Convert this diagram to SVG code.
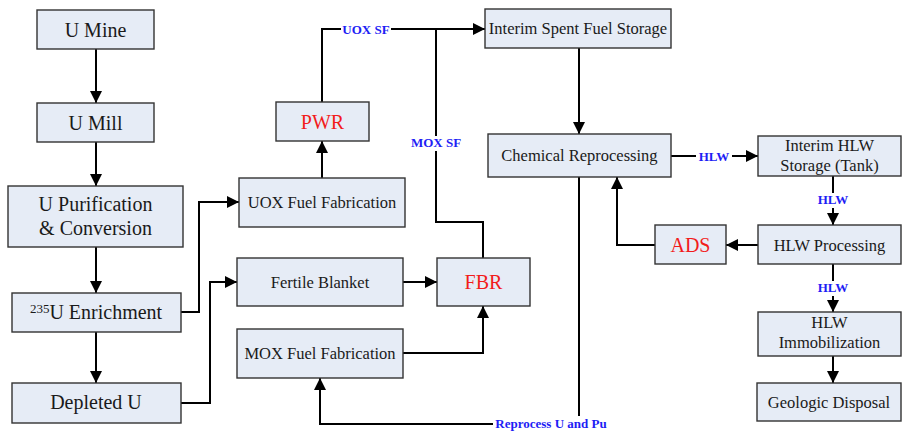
<svg xmlns="http://www.w3.org/2000/svg" width="903" height="431" viewBox="0 0 903 431">
<style>
.box{fill:#E6ECF6;stroke:#333;stroke-width:1.4}
.t{font-family:"Liberation Serif","Times New Roman",serif;fill:#1a1a1a;text-anchor:middle}
.big{font-size:20px}
.med{font-size:16.5px}
.red{fill:#F21C1C;font-size:20px}
.lbl{font-family:"Liberation Serif","Times New Roman",serif;font-weight:bold;font-size:13px;fill:#1E1EF5;text-anchor:middle}
.bg{fill:#fff}
.c{fill:none;stroke:#000;stroke-width:2}
.a{marker-end:url(#ah)}
</style>
<defs>
<marker id="ah" markerUnits="userSpaceOnUse" viewBox="0 0 12 12" refX="12" refY="6" markerWidth="12" markerHeight="12" orient="auto">
<path d="M0,0 L12,6 L0,12 z" fill="#000"/>
</marker>
</defs>
<rect width="903" height="431" fill="#fff"/>
<g id="connectors">
<path class="c a" d="M96,49 V103"/>
<path class="c a" d="M96,142 V186"/>
<path class="c a" d="M96,247 V293"/>
<path class="c a" d="M96,332 V383"/>
<path class="c a" d="M181,312 H199 V202 H239"/>
<path class="c a" d="M181,403 H210 V282 H237"/>
<path class="c a" d="M322,178 V141"/>
<path class="c a" d="M322,102 V29 H485"/>
<path class="c" d="M483,258 V222 H436 V29"/>
<path class="c a" d="M403,282 H437"/>
<path class="c a" d="M403,353 H483 V306"/>
<path class="c a" d="M579,48 V134"/>
<path class="c a" d="M579,177 V424 H320 V378"/>
<path class="c a" d="M671,156 H758"/>
<path class="c a" d="M833,176 V225"/>
<path class="c a" d="M758,245 H726"/>
<path class="c a" d="M655,245 H617 V177"/>
<path class="c a" d="M833,264 V312"/>
<path class="c a" d="M833,356 V383"/>
<rect class="bg" x="341" y="22" width="50" height="15"/>
<text class="lbl" x="366" y="33.5">UOX SF</text>
<rect class="bg" x="409" y="136" width="54" height="15"/>
<text class="lbl" x="436" y="147">MOX SF</text>
<rect class="bg" x="493" y="416" width="117" height="15"/>
<text class="lbl" x="551" y="428">Reprocess U and Pu</text>
<rect class="bg" x="696" y="149" width="36" height="15"/>
<text class="lbl" x="714" y="160.5">HLW</text>
<rect class="bg" x="815" y="193" width="36" height="15"/>
<text class="lbl" x="833" y="204">HLW</text>
<rect class="bg" x="815" y="281" width="36" height="15"/>
<text class="lbl" x="833" y="292">HLW</text>
</g>
<g id="u-mine"><rect class="box" x="37" y="10" width="117" height="39"/><text class="t big" x="95.5" y="36.5">U Mine</text></g>
<g id="u-mill"><rect class="box" x="37" y="103" width="117" height="39"/><text class="t big" x="95.5" y="129.5">U Mill</text></g>
<g id="u-purification"><rect class="box" x="8" y="186" width="175" height="61"/><text class="t big" x="95.5" y="211">U Purification</text><text class="t big" x="95.5" y="235">&amp; Conversion</text></g>
<g id="enrichment"><rect class="box" x="12" y="293" width="169" height="39"/><text class="t big" x="96" y="319"><tspan font-size="13" dy="-6">235</tspan><tspan dy="6">U Enrichment</tspan></text></g>
<g id="depleted-u"><rect class="box" x="12" y="383" width="169" height="40"/><text class="t big" x="96" y="409">Depleted U</text></g>
<g id="uox-fab"><rect class="box" x="239" y="178" width="166" height="49"/><text class="t med" x="322" y="208">UOX Fuel Fabrication</text></g>
<g id="pwr"><rect class="box" x="276" y="102" width="93" height="39"/><text class="t red" x="322.5" y="128.5">PWR</text></g>
<g id="fertile-blanket"><rect class="box" x="237" y="258" width="166" height="48"/><text class="t med" x="320" y="287.5">Fertile Blanket</text></g>
<g id="fbr"><rect class="box" x="437" y="258" width="93" height="48"/><text class="t red" x="483.5" y="289">FBR</text></g>
<g id="mox-fab"><rect class="box" x="237" y="329" width="166" height="49"/><text class="t med" x="320" y="359">MOX Fuel Fabrication</text></g>
<g id="interim-sf"><rect class="box" x="485" y="9" width="186" height="39"/><text class="t med" x="578" y="34">Interim Spent Fuel Storage</text></g>
<g id="chem-reprocessing"><rect class="box" x="488" y="134" width="183" height="43"/><text class="t med" x="579.5" y="161">Chemical Reprocessing</text></g>
<g id="interim-hlw"><rect class="box" x="758" y="136" width="143" height="40"/><text class="t med" x="829.5" y="151">Interim HLW</text><text class="t med" x="829.5" y="171">Storage (Tank)</text></g>
<g id="ads"><rect class="box" x="655" y="225" width="71" height="39"/><text class="t red" x="690.5" y="251.5">ADS</text></g>
<g id="hlw-processing"><rect class="box" x="758" y="225" width="143" height="39"/><text class="t med" x="829.5" y="250.5">HLW Processing</text></g>
<g id="hlw-immobilization"><rect class="box" x="758" y="312" width="143" height="44"/><text class="t med" x="829.5" y="328">HLW</text><text class="t med" x="829.5" y="348">Immobilization</text></g>
<g id="geologic-disposal"><rect class="box" x="757" y="383" width="144" height="38"/><text class="t med" x="829" y="408">Geologic Disposal</text></g>
</svg>
